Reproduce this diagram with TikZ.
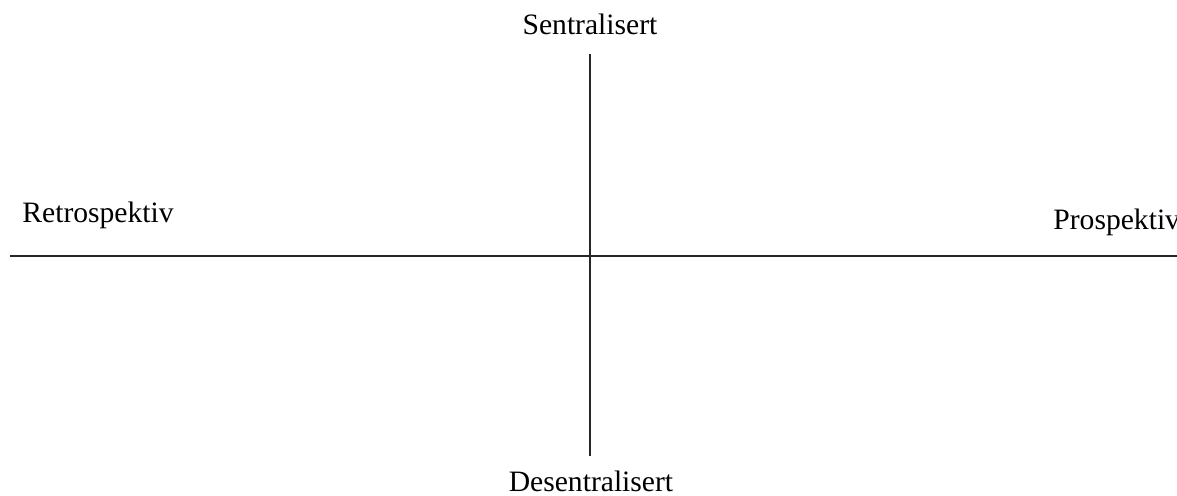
\documentclass[tikz,border=0pt]{standalone}
\usepackage{fontspec}
\setmainfont{Liberation Serif}
\usepackage{tikz}

\begin{document}
\begin{tikzpicture}
		[x=0.5pt,y=-0.5pt, axis/.style={line width=0.9pt, black!85}, lbl/.style={anchor=base, inner sep=0, font=\fontsize{14.8}{17}\selectfont}]
		\useasboundingbox (0,0) rectangle (1177,496);
		\coordinate (top) at (590,54);
		\coordinate (bottom) at (590,456);
		\coordinate (left) at (10,256);
		\coordinate (right) at (1177,256);
		\draw[axis] (top) -- (bottom);
		\draw[axis] (left) -- (right);
		\node[lbl] (sentral) at (590,35) {Sentralisert};
		\node[lbl] (desentral) at (591,491) {Desentralisert};
		\node[lbl, anchor=base west] (retro) at (22,223) {Retrospektiv};
		\node[lbl, anchor=base west] (prosp) at (1053,230) {Prospektiv};
	\end{tikzpicture}
\end{document}
